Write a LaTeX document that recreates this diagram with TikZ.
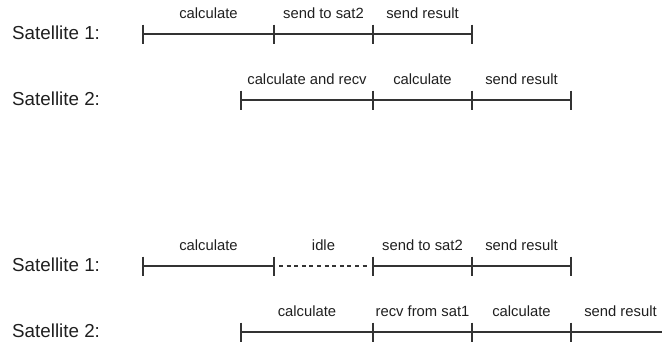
\documentclass[tikz,border=0pt]{standalone}
\usepackage{fontspec}
\setmainfont{Liberation Sans}
\begin{document}
\begin{tikzpicture}[x=1pt,y=-1pt,
  ink/.style={draw=black!80, line width=1.2pt},
  idleline/.style={ink, dash pattern=on 4pt off 3.6pt},
  sat/.style={anchor=base west, inner sep=0pt, text=black!88,
    font=\fontsize{18.8}{21}\selectfont},
  phase/.style={anchor=base, inner sep=0pt, text=black!88, yshift=15.5pt,
    font=\fontsize{14.8}{17}\selectfont}]
\useasboundingbox (0,0) rectangle (662,341);
\clip (0,0) rectangle (662,341);

% time marks of each timeline
\coordinate (a0) at (143,34);  \coordinate (a1) at (274,34);
\coordinate (a2) at (373,34);  \coordinate (a3) at (472,34);
\coordinate (b0) at (241,100); \coordinate (b1) at (373,100);
\coordinate (b2) at (472,100); \coordinate (b3) at (571,100);
\coordinate (c0) at (143,266); \coordinate (c1) at (274,266);
\coordinate (c2) at (373,266); \coordinate (c3) at (472,266);
\coordinate (c4) at (571,266);
\coordinate (d0) at (241,332); \coordinate (d1) at (373,332);
\coordinate (d2) at (472,332); \coordinate (d3) at (571,332);
\coordinate (d4) at (670,332);

% row captions
\node[sat] (s1a) at (12,39)  {Satellite 1:};
\node[sat] (s2a) at (12,105) {Satellite 2:};
\node[sat] (s1b) at (12,271) {Satellite 1:};
\node[sat] (s2b) at (12,337) {Satellite 2:};

% first schedule
\draw[ink] (a0) -- node[phase] (pa1) {calculate} (a1)
                -- node[phase] (pa2) {send to sat2} (a2)
                -- node[phase] (pa3) {send result} (a3);
\draw[ink] (b0) -- node[phase] (pb1) {calculate and recv} (b1)
                -- node[phase] (pb2) {calculate} (b2)
                -- node[phase] (pb3) {send result} (b3);

% second schedule
\draw[ink] (c0) -- node[phase] (pc1) {calculate} (c1);
\path (c1) -- node[phase] (pc2) {idle} (c2);
\draw[idleline] ([xshift=5pt]c1) -- ([xshift=-5pt]c2);
\draw[ink] (c2) -- node[phase] (pc3) {send to sat2} (c3)
                -- node[phase] (pc4) {send result} (c4);
\draw[ink] (d0) -- node[phase] (pd1) {calculate} (d1)
                -- node[phase] (pd2) {recv from sat1} (d2)
                -- node[phase] (pd3) {calculate} (d3)
                -- node[phase] (pd4) {send result} (d4);

% tick marks
\foreach \p in {a0,a1,a2,a3,b0,b1,b2,b3,c0,c1,c2,c3,c4,d0,d1,d2,d3}
  \draw[ink] ([yshift=9.5pt]\p) -- ([yshift=-9.5pt]\p);
\end{tikzpicture}
\end{document}
